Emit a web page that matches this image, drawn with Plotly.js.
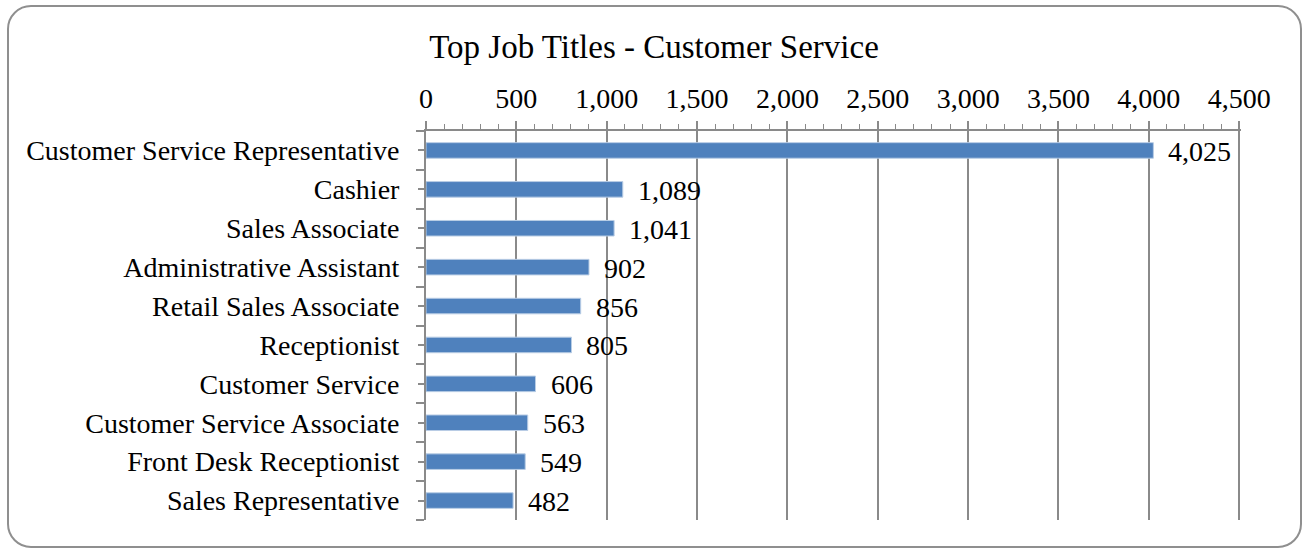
<!DOCTYPE html>
<html>
<head>
<meta charset="utf-8">
<script src="https://cdn.plot.ly/plotly-3.0.1.min.js"></script>
<style>
  html, body { margin: 0; padding: 0; background: #ffffff; }
  #wrap { position: relative; width: 1302px; height: 548px; overflow: hidden; }
  #chart { position: absolute; left: 0; top: 0; width: 1302px; height: 548px; }
  #frame { position: absolute; left: 7px; top: 5px; width: 1291px; height: 539px;
           border: 2px solid #8f8f8f; border-radius: 24px; pointer-events: none; }
</style>
</head>
<body>
<div id="wrap">
  <div id="chart"></div>
  <div id="frame"></div>
</div>
<script>
const chartTitle = "Top Job Titles - Customer Service";
const categories = [
  "Customer Service Representative",
  "Cashier",
  "Sales Associate",
  "Administrative Assistant",
  "Retail Sales Associate",
  "Receptionist",
  "Customer Service",
  "Customer Service Associate",
  "Front Desk Receptionist",
  "Sales Representative"
];
const counts = [4025, 1089, 1041, 902, 856, 805, 606, 563, 549, 482];
const xTickValues = [0, 500, 1000, 1500, 2000, 2500, 3000, 3500, 4000, 4500];

const positions = categories.map((c, i) => i);
const fmt = v => v.toLocaleString('en-US');

const FONT = '"Liberation Serif", "Times New Roman", serif';
const GRID = '#8a8a8a';
const LABEL_SIZE = 28;

const trace = {
  type: 'bar',
  orientation: 'h',
  x: counts,
  y: positions,
  width: 0.4,
  marker: { color: '#4F81BD', line: { color: '#B9CDE5', width: 1 } },
  hoverinfo: 'skip'
};

const annotations = counts.map((v, i) => ({
  x: v, y: positions[i], xref: 'x', yref: 'y',
  text: fmt(v), showarrow: false,
  xanchor: 'left', yanchor: 'middle', xshift: 13, yshift: -1,
  font: { family: FONT, size: LABEL_SIZE, color: '#000000' }
}));

const layout = {
  width: 1302, height: 548,
  paper_bgcolor: 'rgba(0,0,0,0)', plot_bgcolor: 'rgba(0,0,0,0)',
  margin: { l: 426, r: 61, t: 131, b: 28, pad: 0 },
  showlegend: false,
  title: {
    text: chartTitle,
    font: { family: FONT, size: 33, color: '#000000' },
    x: 654 / 1302, xref: 'container', xanchor: 'center',
    y: 1 - 46 / 548, yref: 'container', yanchor: 'middle'
  },
  xaxis: {
    side: 'top',
    range: [0, 4510],
    tickvals: xTickValues,
    ticktext: xTickValues.map(fmt),
    ticks: 'outside', ticklen: 8, tickwidth: 2, tickcolor: GRID,
    showline: true, linecolor: GRID, linewidth: 2,
    showgrid: true, gridcolor: GRID, gridwidth: 2,
    zeroline: false,
    tickfont: { family: FONT, size: LABEL_SIZE, color: '#000000' },
    ticklabelstandoff: 2,
    minor: { dtick: 100, tick0: 0, ticks: 'outside', ticklen: 5, tickwidth: 1, tickcolor: GRID, showgrid: false },
    fixedrange: true
  },
  yaxis: {
    range: [categories.length - 0.5, -0.5],
    tickvals: positions,
    ticktext: categories,
    ticks: 'outside', ticklen: 6, tickwidth: 2, tickcolor: GRID,
    showline: true, linecolor: GRID, linewidth: 2,
    showgrid: false, zeroline: false,
    tickfont: { family: FONT, size: LABEL_SIZE, color: '#000000' },
    ticklabelstandoff: 13,
    minor: { dtick: 1, tick0: 0.5, ticks: 'outside', ticklen: 8, tickwidth: 2, tickcolor: GRID, showgrid: false },
    fixedrange: true
  },
  annotations: annotations
};

Plotly.newPlot('chart', [trace], layout, { displayModeBar: false, staticPlot: true });
</script>
</body>
</html>
